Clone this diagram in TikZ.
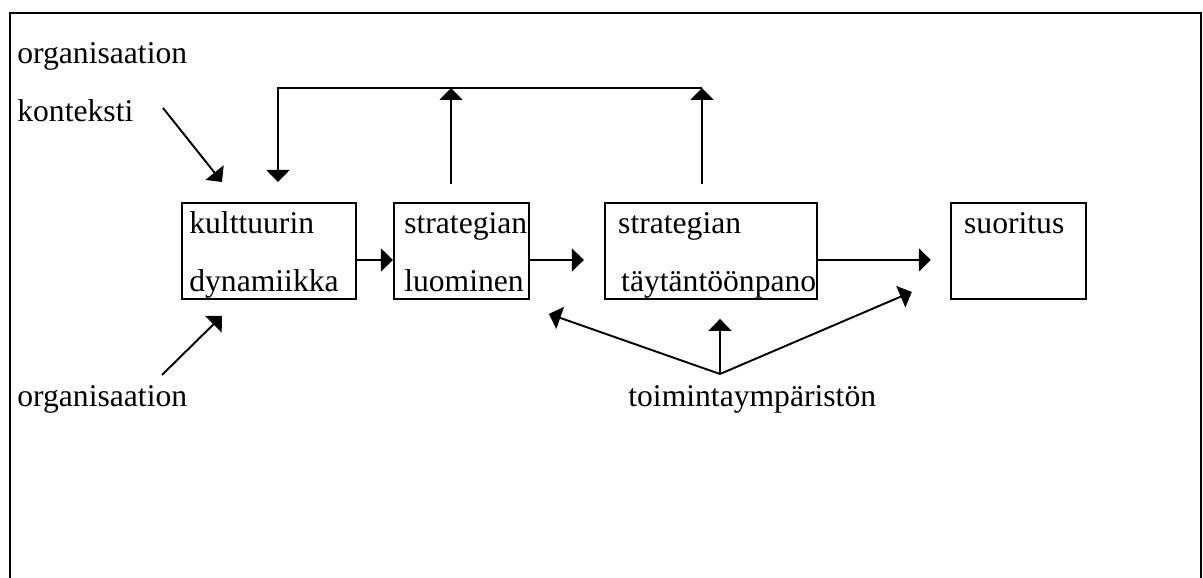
\documentclass[tikz,border=0pt]{standalone}
\usepackage{fontspec}
\setmainfont{Liberation Serif}
\usetikzlibrary{arrows.meta, positioning}

\begin{document}
\begin{tikzpicture}[
    >={Triangle[width=0.46cm, length=0.24cm]},
    box/.style={draw, line width=1.1pt, minimum height=1.92cm, inner sep=0pt},
    txt/.style={anchor=base west, inner sep=0pt, font=\fontsize{18}{21.6}\selectfont},
    arrow/.style={->, line width=1.1pt},
]
\useasboundingbox (0,0) rectangle (24.06,-11.56);

% ============================================================
%  Frame (open at the bottom)
% ============================================================
\draw[line width=1.1pt] (0.20,-11.7) -- (0.20,-0.26) -- (24.02,-0.26) -- (24.02,-11.7);

% ============================================================
%  Boxes
% ============================================================
\node[box, minimum width=3.48cm, anchor=north west] (kult) at (3.62,-4.04) {};
\node[box, minimum width=2.70cm, right=0.72cm of kult] (luom) {};
\node[box, minimum width=4.24cm, right=1.48cm of luom] (toteu) {};
\node[box, minimum width=2.70cm, right=2.64cm of toteu] (suor) {};

\node[txt] (kult1) at ([shift={(0.16,-0.64)}]kult.north west) {kulttuurin};
\node[txt] (kult2) at ([shift={(0.16,0.16)}]kult.south west) {dynamiikka};
\node[txt] (luom1) at ([shift={(0.22,-0.64)}]luom.north west) {strategian};
\node[txt] (luom2) at ([shift={(0.22,0.16)}]luom.south west) {luominen};
\node[txt] (toteu1) at ([shift={(0.28,-0.64)}]toteu.north west) {strategian};
\node[txt] (toteu2) at ([shift={(0.34,0.16)}]toteu.south west) {täytäntöönpano};
\node[txt] (suor1) at ([shift={(0.28,-0.64)}]suor.north west) {suoritus};

% ============================================================
%  Outer labels
% ============================================================
\node[txt] (orgA) at (0.34,-1.28) {organisaation};
\node[txt] (kont) at (0.34,-2.44) {konteksti};
\node[txt] (orgB) at (0.34,-8.14) {organisaation};
\node[txt] (toim) at (12.56,-8.14) {toimintaympäristön};

% ============================================================
%  Main chain
% ============================================================
\draw[arrow] ([yshift=-0.18cm]kult.east) -- ([yshift=-0.18cm]luom.west);
\draw[arrow, shorten >=0.40cm] ([yshift=-0.18cm]luom.east) -- ([yshift=-0.18cm]toteu.west);
\draw[arrow, shorten >=0.38cm] ([yshift=-0.18cm]toteu.east) -- ([yshift=-0.18cm]suor.west);

% --- Feedback loop ---
\coordinate (fbL) at (5.56,-1.76);
\coordinate (fbM) at (9.02,-1.76);
\coordinate (fbR) at (14.04,-1.76);
\draw[arrow, shorten >=0.40cm] (fbR) -- (fbL) -- (fbL |- kult.north);
\draw[arrow, shorten <=0.36cm] (fbM |- luom.north) -- (fbM);
\draw[arrow, shorten <=0.36cm] (fbR |- toteu.north) -- (fbR);

% --- Organisational context ---
\coordinate (kontA) at (3.26,-2.16);
\draw[arrow] (kontA) -- ([shift={(0.82,0.40)}]kult.north west);
\coordinate (orgB0) at (3.24,-7.50);
\draw[arrow] (orgB0) -- ([shift={(0.82,-0.32)}]kult.south west);

% --- Operating environment ---
\coordinate (haara) at (14.40,-7.48);
\draw[arrow] (haara) -- ([shift={(0.38,-0.28)}]luom.south east);
\draw[arrow, shorten >=0.38cm] (haara) -- (haara |- toteu.south);
\draw[arrow] (haara) -- ([shift={(-0.76,0.16)}]suor.south west);

\end{tikzpicture}
\end{document}
